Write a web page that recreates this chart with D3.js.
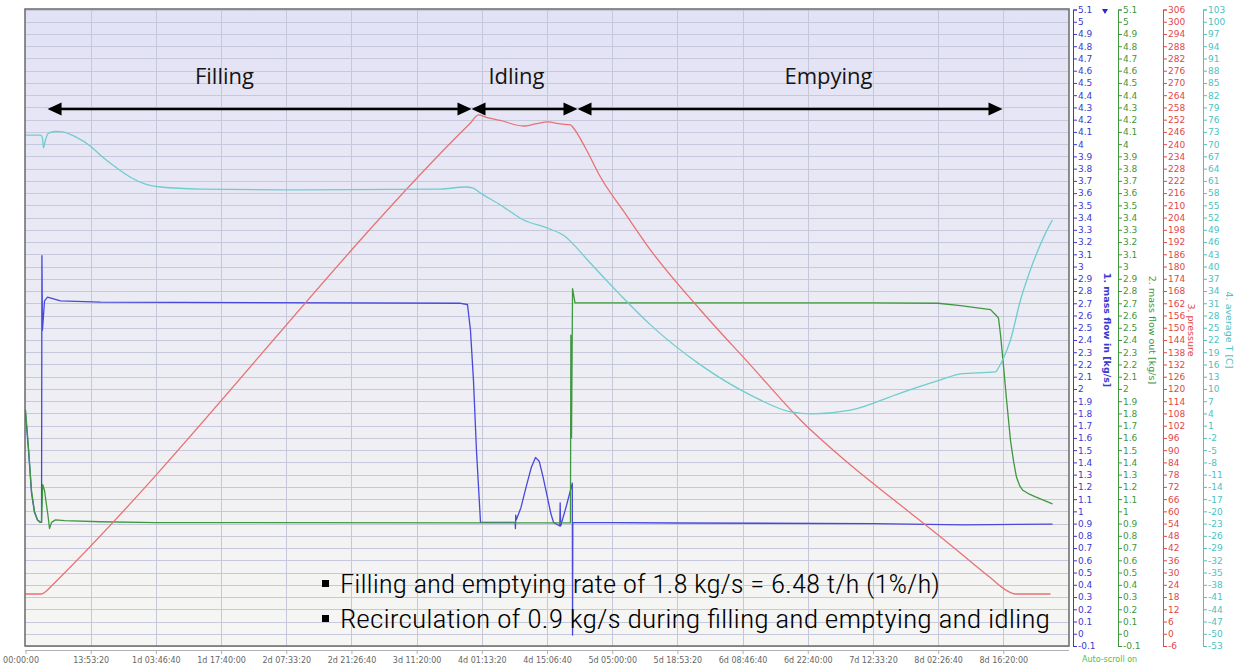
<!DOCTYPE html>
<html>
<head>
<meta charset="utf-8">
<script src="https://cdn.jsdelivr.net/npm/d3@7"></script>
<style>
  body { margin: 0; background: #fff; }
  svg { display: block; }
</style>
</head>
<body>
<svg id="chart" width="1245" height="664"></svg>
<script>
// time in ks (1000 s), flows in kg/s, pressure in bar, temperature in C

const timeTicks = [0, 50, 100, 150, 200, 250, 300, 350, 400, 450, 500, 550, 600, 650, 700, 750];
const timeLabels = ['00:00:00', '13:53:20', '1d 03:46:40', '1d 17:40:00', '2d 07:33:20', '2d 21:26:40',
  '3d 11:20:00', '4d 01:13:20', '4d 15:06:40', '5d 05:00:00', '5d 18:53:20', '6d 08:46:40',
  '6d 22:40:00', '7d 12:33:20', '8d 02:26:40', '8d 16:20:00'];

const massFlowIn = [
  [0, 1.80], [2.3, 1.50], [4.6, 1.15], [6.9, 0.99], [9.2, 0.93], [11.5, 0.91], [12.3, 0.91],
  [12.6, 3.09], [13.0, 2.48], [14.6, 2.72], [16.9, 2.75], [26.8, 2.72], [57.5, 2.71],
  [333.7, 2.70], [339.0, 2.69], [341.3, 2.48], [343.6, 2.07], [345.9, 1.50], [349.0, 0.91],
  [375.6, 0.91], [375.8, 0.86], [376.0, 0.97], [376.4, 0.93], [380, 1.03], [384, 1.20],
  [388, 1.36], [391.2, 1.44], [394, 1.41], [397, 1.28], [400, 1.13], [403, 0.98], [405, 0.91],
  [409.8, 0.88], [410.1, 1.07], [410.5, 0.88], [415, 1.05], [419.4, 1.23], [419.6, -0.01],
  [419.8, 0.91], [500, 0.905], [650, 0.90], [720, 0.89], [760, 0.893], [787.7, 0.895]
];

const massFlowOut = [
  [0, 1.83], [2.3, 1.52], [4.6, 1.17], [6.9, 1.00], [9.2, 0.93], [11.5, 0.91], [12.3, 0.91],
  [13.2, 1.22], [14.6, 1.17], [16.0, 1.06], [17.2, 0.97], [18.4, 0.86], [20.0, 0.91], [23, 0.93],
  [30, 0.925], [57.5, 0.915], [100, 0.908], [418.0, 0.906], [418.3, 2.44], [418.8, 1.60],
  [419.6, 2.82], [421.5, 2.704], [650, 2.704], [700, 2.70], [717.2, 2.68], [740.2, 2.648],
  [744.0, 2.606], [746.3, 2.58], [747.9, 2.44], [750.2, 2.18], [752.5, 1.91], [755.5, 1.58],
  [758.0, 1.40], [760.1, 1.28], [762.5, 1.21], [764.7, 1.175], [770, 1.14], [774.7, 1.118],
  [787.7, 1.061]
];

const pressure = [
  [0, 19.5], [12.3, 19.5], [16.1, 21.0], [20.7, 23.9], [341.3, 250.4], [347.5, 254.3],
  [352.8, 253.3], [364.3, 251.6], [382.0, 248.9], [391.2, 249.9], [400.4, 250.9], [410.4, 249.9],
  [418.0, 249.4], [420.3, 247.9], [429.5, 238.1], [441.0, 223.9], [460.2, 205.8], [479.4, 188.1],
  [517.7, 158.7], [556.1, 131.7], [594.4, 104.8], [632.8, 82.7], [671.1, 63.1], [709.5, 43.5],
  [740.2, 27.4], [751.7, 21.5], [759.3, 19.5], [786.2, 19.5]
];

const avgTemp = [
  [0, 72.2], [11.5, 72.2], [13.0, 71.5], [13.8, 69.1], [15.3, 71.0], [17.6, 72.7], [23.0, 73.1],
  [28.4, 73.0], [38.4, 71.8], [49.9, 69.5], [57.5, 67.3], [69.0, 64.4], [80.5, 61.9], [92.0, 60.2],
  [103.5, 59.5], [134.2, 59.0], [210.9, 58.8], [318.3, 59.0], [337.5, 59.5], [342.8, 59.3],
  [349.0, 58.0], [364.3, 55.1], [382.0, 51.4], [400.4, 49.4], [414.2, 47.3], [421.0, 45.2],
  [431.1, 41.6], [456.4, 33.0], [479.4, 25.7], [517.7, 15.9], [556.1, 8.5], [586.8, 4.4],
  [603.6, 3.9], [632.8, 4.8], [671.1, 9.0], [701.8, 12.2], [717.2, 13.7], [744.0, 14.2],
  [746.3, 15.2], [750.2, 17.6], [755.5, 22.0], [763.2, 31.8], [770.8, 39.2], [782.4, 48.2],
  [787.7, 51.4]
];

// phases: arrow from/to in ks, label position in ks
const phaseNames = ['Filling', 'Idling', 'Empying'];
const phaseFrom = [16.9, 342.1, 423.4];
const phaseTo = [342.1, 423.4, 749.4];
const phaseLabelAt = [152.6, 376.6, 615.9];

const notes = [
  'Filling and emptying rate of 1.8 kg/s = 6.48 t/h (1%/h)',
  'Recirculation of 0.9 kg/s during filling and emptying and idling'
];

const svg = d3.select('#chart');
const plot = { left: 25, right: 1069, top: 9, bottom: 646 };

const x = d3.scaleLinear().domain([0, 800]).range([25.5, 1068.5]);

// four right-hand axes, all 52 steps on the same pixel range
const axes = [
  { key: 'in', title: '1. mass flow in [kg/s]', color: '#3a3ad2', line: '#4848dc', min: -0.1, step: 0.1, pos: 1073, titleX: 1106, bold: true, data: massFlowIn },
  { key: 'out', title: '2. mass flow out [kg/s]', color: '#3f963f', line: '#3f983f', min: -0.1, step: 0.1, pos: 1118, titleX: 1151, data: massFlowOut },
  { key: 'p', title: '3. pressure', color: '#e04848', line: '#e87272', min: -6, step: 6, pos: 1163, titleX: 1190, data: pressure },
  { key: 't', title: '4. average T [C]', color: '#4cc2c2', line: '#6fcdcd', min: -53, step: 3, pos: 1203, titleX: 1228, data: avgTemp }
];
axes.forEach(a => {
  a.max = +(a.min + 52 * a.step).toFixed(1);
  a.scale = d3.scaleLinear().domain([a.min, a.max]).range([646, 9.5]);
  a.ticks = d3.range(53).map(i => +(a.min + i * a.step).toFixed(1));
});

// background
const defs = svg.append('defs');
const grad = defs.append('linearGradient').attr('id', 'bg').attr('x1', 0).attr('y1', 0).attr('x2', 0).attr('y2', 1);
grad.append('stop').attr('offset', '0%').attr('stop-color', '#e2e2f6');
grad.append('stop').attr('offset', '100%').attr('stop-color', '#f6f6f3');
defs.append('clipPath').attr('id', 'clip').append('rect')
  .attr('x', plot.left).attr('y', plot.top)
  .attr('width', plot.right - plot.left).attr('height', plot.bottom - plot.top);

svg.append('rect')
  .attr('x', plot.left).attr('y', plot.top)
  .attr('width', plot.right - plot.left).attr('height', plot.bottom - plot.top)
  .attr('fill', 'url(#bg)');

// grid
const grid = svg.append('g');
grid.selectAll('.hgrid')
  .data(axes[0].ticks)
  .join('line')
  .attr('x1', plot.left).attr('x2', plot.right)
  .attr('y1', d => Math.round(axes[0].scale(d)) + 0.5)
  .attr('y2', d => Math.round(axes[0].scale(d)) + 0.5)
  .attr('stroke', '#c8c8dc').attr('stroke-width', 1);
grid.selectAll('.vgrid')
  .data(timeTicks.slice(1))
  .join('line')
  .attr('x1', d => Math.round(x(d)) + 0.5).attr('x2', d => Math.round(x(d)) + 0.5)
  .attr('y1', plot.top).attr('y2', plot.bottom)
  .attr('stroke', '#c7c7da').attr('stroke-width', 1);

// series
const series = svg.append('g').attr('clip-path', 'url(#clip)');
axes.forEach(a => {
  const smooth = a.key === 't' || a.key === 'p';
  const line = d3.line()
    .x(d => x(d[0]))
    .y(d => a.scale(d[1]))
    .curve(smooth ? d3.curveMonotoneX : d3.curveLinear);
  series.append('path')
    .attr('d', line(a.data))
    .attr('fill', 'none')
    .attr('stroke', a.line)
    .attr('stroke-width', 1.3)
    .attr('stroke-linejoin', 'round');
});

// frame
svg.append('rect')
  .attr('x', plot.left).attr('y', plot.top)
  .attr('width', plot.right - plot.left).attr('height', plot.bottom - plot.top)
  .attr('fill', 'none').attr('stroke', '#6a6a6a').attr('stroke-width', 1.5);

// right axes
axes.forEach(a => {
  const g = svg.append('g')
    .attr('transform', `translate(${a.pos},0)`)
    .call(d3.axisRight(a.scale)
      .tickValues(a.ticks)
      .tickSize(4)
      .tickSizeOuter(4)
      .tickPadding(1)
      .tickFormat(d => String(d)));
  g.select('.domain').attr('stroke', a.color);
  g.selectAll('.tick line').attr('stroke', a.color);
  g.selectAll('.tick text')
    .attr('fill', a.color)
    .attr('font-size', '9px')
    .attr('font-family', 'DejaVu Sans, Verdana, sans-serif');

  svg.append('text')
    .attr('transform', `translate(${a.titleX},330) rotate(90)`)
    .attr('text-anchor', 'middle')
    .attr('dominant-baseline', 'middle')
    .attr('font-size', '9.5px')
    .attr('font-weight', a.bold ? 'bold' : 'normal')
    .attr('font-family', 'DejaVu Sans, Verdana, sans-serif')
    .attr('fill', a.color)
    .text(a.title);
});

// small selector marker next to the first axis
svg.append('path')
  .attr('d', 'M1102,9 L1108,9 L1105,14 Z')
  .attr('fill', '#2a2ac8');

// bottom time axis
const xg = svg.append('g')
  .attr('transform', 'translate(0,650)')
  .call(d3.axisBottom(x)
    .tickValues(timeTicks)
    .tickSize(4)
    .tickSizeOuter(0)
    .tickPadding(3)
    .tickFormat((d, i) => timeLabels[i]));
xg.select('.domain').attr('stroke', '#b0b0b0').attr('d', `M${plot.left},0.5H${plot.right}`);
xg.selectAll('.tick line').attr('stroke', '#b0b0b0');
xg.selectAll('.tick text')
  .attr('fill', '#666')
  .attr('font-size', '8px')
  .attr('font-family', 'DejaVu Sans, Verdana, sans-serif');
xg.selectAll('.tick text').filter((d, i) => i === 0)
  .attr('text-anchor', 'end').attr('dx', '13');

svg.append('text')
  .attr('x', 1082).attr('y', 662)
  .attr('font-size', '8px')
  .attr('font-family', 'DejaVu Sans, Verdana, sans-serif')
  .attr('fill', '#46c446')
  .text('Auto-scroll on');

// phase arrows and labels
const yIn = axes[0].scale;
const arrowY = yIn(4.287);
const labelY = yIn(4.49);
const ann = svg.append('g');
phaseNames.forEach((name, i) => {
  const x1 = x(phaseFrom[i]), x2 = x(phaseTo[i]);
  ann.append('line')
    .attr('x1', x1 + 10).attr('x2', x2 - 10)
    .attr('y1', arrowY).attr('y2', arrowY)
    .attr('stroke', '#000').attr('stroke-width', 2.4);
  ann.append('path')
    .attr('d', `M${x1},${arrowY} L${x1 + 14},${arrowY - 6.5} L${x1 + 14},${arrowY + 6.5} Z`)
    .attr('fill', '#000');
  ann.append('path')
    .attr('d', `M${x2},${arrowY} L${x2 - 14},${arrowY - 6.5} L${x2 - 14},${arrowY + 6.5} Z`)
    .attr('fill', '#000');
  ann.append('text')
    .attr('x', x(phaseLabelAt[i]))
    .attr('y', labelY)
    .attr('text-anchor', 'middle')
    .attr('font-size', '22px')
    .attr('font-family', 'Open Sans, Noto Sans, sans-serif')
    .attr('fill', '#141414')
    .text(name);
});

// bullet notes
const noteBase = [593, 628];
const noteWidth = [600, 710];
notes.forEach((t, i) => {
  ann.append('rect')
    .attr('x', 322).attr('y', noteBase[i] - 13)
    .attr('width', 7).attr('height', 7)
    .attr('fill', '#000');
  ann.append('text')
    .attr('x', 340).attr('y', noteBase[i])
    .attr('font-size', '25px')
    .attr('font-weight', 300)
    .attr('font-family', 'Roboto Condensed, Roboto, Liberation Sans Narrow, sans-serif')
    .attr('textLength', noteWidth[i])
    .attr('lengthAdjust', 'spacingAndGlyphs')
    .attr('fill', '#000')
    .text(t);
});
</script>
</body>
</html>
